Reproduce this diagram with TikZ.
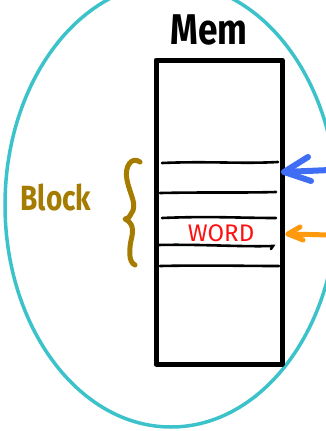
\documentclass[tikz,border=0pt]{standalone}
\usepackage{fontspec}
\setmainfont{Fira Sans}
\definecolor{ringc}{HTML}{3CC2CA}
\definecolor{goldc}{HTML}{A57C00}
\definecolor{bluec}{HTML}{3F6EF5}
\definecolor{orangec}{HTML}{FF990D}
\definecolor{wordc}{HTML}{FF1010}
\begin{document}
\begin{tikzpicture}[x=1pt,y=-1pt,
  ring/.style={draw=ringc,line width=3.5pt},
  membox/.style={draw=black,line width=5pt,line join=round},
  slot/.style={draw=black,line width=2.6pt,line cap=round},
  brace/.style={draw=goldc,line width=5pt,line cap=round,line join=round},
  ptr/.style={line width=6pt,line cap=round,line join=round}]
\useasboundingbox (0,0) rectangle (326,431);
\fill[white] (0,0) rectangle (326,431);
\draw[ring] (171,205) ellipse [x radius=166pt, y radius=222pt];
% memory box
\coordinate (tl) at (156,60);
\coordinate (br) at (282,364);
\draw[membox] (tl) rectangle (br);
\node[font=\bfseries\fontsize{43}{43}\selectfont,inner sep=0pt] (mem) at (209,30) {\scalebox{0.82}[1]{Mem}};
% slot lines
\draw[slot] (162,163) .. controls (210,161) and (240,164) .. (278,162);
\draw[slot] (160,193) .. controls (210,192) and (240,193) .. (276,192);
\draw[slot] (162,218) .. controls (210,216) and (240,218) .. (276,218);
\draw[slot] (158,245) .. controls (200,244) and (240,247) .. (273,246) -- (271,249);
\draw[slot] (160,266) .. controls (210,265) and (240,266) .. (279,266);
\node[text=wordc,font=\fontsize{24}{24}\selectfont,inner sep=0pt] (word) at (221,233) {WORD};
% block label and brace
\node[text=goldc,font=\bfseries\fontsize{35}{35}\selectfont,inner sep=0pt] (block) at (56,198) {\scalebox{0.8}[1]{Block}};
\draw[brace] (140,162) .. controls (132,156) and (124,166) .. (127,180)
  .. controls (130,195) and (138,205) .. (131,214)
  .. controls (129,218) and (127,219) .. (125,219)
  .. controls (130,221) and (134,226) .. (132,236)
  .. controls (129,248) and (128,262) .. (135,265);
% pointers
\coordinate (btip) at (284,172);
\coordinate (bend) at (330,170);
\draw[ptr,draw=bluec] (bend) -- (btip);
\draw[ptr,draw=bluec] (308,157) -- (btip) -- (311,181);
\coordinate (otip) at (288,234);
\coordinate (oend) at (330,235);
\draw[ptr,draw=orangec,line width=5pt] (oend) -- (otip);
\draw[ptr,draw=orangec,line width=5pt] (300,227) -- (otip) -- (303,240);
\end{tikzpicture}
\end{document}
